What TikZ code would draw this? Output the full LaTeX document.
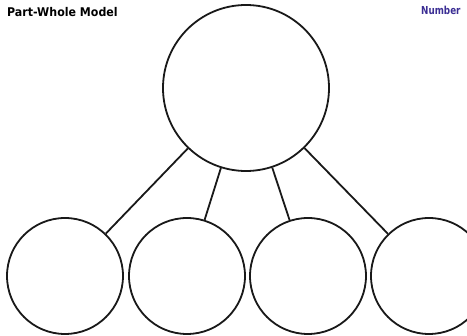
\documentclass[tikz,border=0pt]{standalone}
\usepackage{fontspec}
\setmainfont{DejaVu Sans}
\definecolor{numblue}{HTML}{3B2E94}
\begin{document}
\begin{tikzpicture}[x=1pt,y=-1pt,
  part/.style={circle,draw=black!90,line width=1.8pt,inner sep=0pt,minimum size=116pt},
  whole/.style={circle,draw=black!90,line width=1.8pt,inner sep=0pt,minimum size=166pt},
  link/.style={draw=black!90,line width=1.8pt}]
\useasboundingbox[fill=white] (0,0) rectangle (467,336);
\node[whole] (w) at (246,88) {};
\node[part] (p1) at (65,276) {};
\node[part] (p2) at (187,276) {};
\node[part] (p3) at (308,276) {};
\node[part] (p4) at (429,276) {};
\draw[link] (w) -- (p1);
\draw[link] (w) -- (p2);
\draw[link] (w) -- (p3);
\draw[link] (w) -- (p4);
\node[anchor=west,inner sep=0pt,xscale=0.92,font=\bfseries\fontsize{12}{12}\selectfont] (title) at (7,12) {Part-Whole Model};
\node[anchor=west,inner sep=0pt,xscale=0.8,text=numblue,font=\bfseries\fontsize{11}{11}\selectfont] (num) at (421,10) {Number};
\end{tikzpicture}
\end{document}
